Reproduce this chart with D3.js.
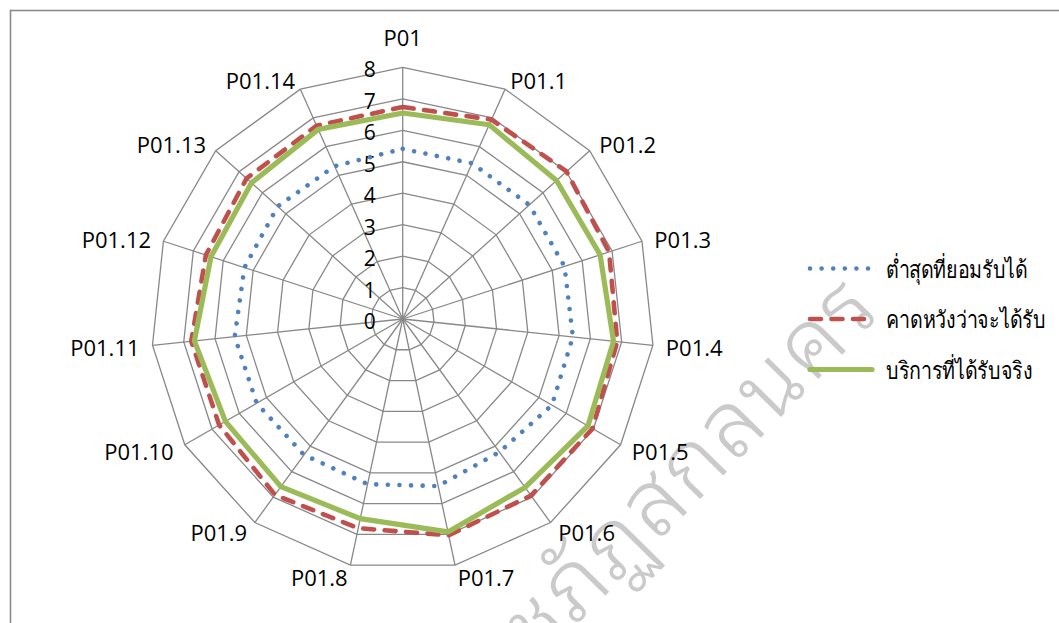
<!DOCTYPE html>
<html>
<head>
<meta charset="utf-8">
<script src="https://cdn.jsdelivr.net/npm/d3@7"></script>
<style>
  html, body { margin: 0; padding: 0; background: #fff; }
  svg { display: block; }
  text { font-family: "Open Sans", "Noto Sans", sans-serif; }
  .mark { font-family: "Noto Sans Thai Looped", "Noto Sans Thai", "Loma", "Garuda", "Waree", sans-serif; }
</style>
</head>
<body>
<svg id="chart" width="1059" height="623"></svg>
<script>
// Axis categories of the radar
const categories = ["P01", "P01.1", "P01.2", "P01.3", "P01.4", "P01.5", "P01.6", "P01.7",
                    "P01.8", "P01.9", "P01.10", "P01.11", "P01.12", "P01.13", "P01.14"];

// Series values (one per category)
const minAcceptable = [5.41, 5.42, 5.42, 5.41, 5.44, 5.48, 5.23, 5.43, 5.37, 5.34, 5.36, 5.37, 5.29, 5.35, 5.32];
const expected      = [6.74, 6.94, 7.01, 6.90, 6.86, 6.97, 6.94, 7.03, 6.80, 6.91, 6.74, 6.76, 6.58, 6.68, 6.73];
const received      = [6.55, 6.76, 6.58, 6.60, 6.74, 6.80, 6.62, 6.92, 6.49, 6.59, 6.51, 6.66, 6.41, 6.47, 6.60];

// Radial tick values
const ticks = [0, 1, 2, 3, 4, 5, 6, 7, 8];

// Legend names
const seriesNames = ["ต่ำสุดที่ยอมรับได้", "คาดหวังว่าจะได้รับ", "บริการที่ได้รับจริง"];

const svg = d3.select("#chart");
const cx = 402.7, cy = 319, R = 251.6;

// Institutional watermark, drawn underneath everything
svg.append("text")
  .attr("class", "mark")
  .attr("transform", "translate(884,312) rotate(-45.5)")
  .attr("text-anchor", "end")
  .attr("font-size", 92)
  .attr("font-weight", 300)
  .attr("letter-spacing", 2)
  .style("fill", "#cacaca")
  .text("มหาวิทยาลัยราชภัฏสกลนคร");

// Outer frame of the chart area (only top and left edges fall inside the view)
svg.append("rect")
  .attr("x", 10.5).attr("y", 10.5)
  .attr("width", 1200).attr("height", 800)
  .attr("fill", "none").attr("stroke", "#8a8a8a").attr("stroke-width", 1.6);

const r = d3.scaleLinear().domain([0, 8]).range([0, R]);
const angle = d3.scalePoint().domain(categories).range([0, 2 * Math.PI * (categories.length - 1) / categories.length]);

const g = svg.append("g").attr("transform", `translate(${cx},${cy})`);

const pt = (cat, v) => {
  const a = angle(cat);
  return [Math.sin(a) * r(v), -Math.cos(a) * r(v)];
};

// Grid rings
const ringLine = d3.lineRadial().angle(d => angle(d.c)).radius(d => r(d.v)).curve(d3.curveLinearClosed);
g.append("g").selectAll("path")
  .data(ticks.filter(t => t > 0))
  .join("path")
  .attr("d", t => ringLine(categories.map(c => ({ c, v: t }))))
  .attr("fill", "none").attr("stroke", "#888").attr("stroke-width", 1.3);

// Spokes
g.append("g").selectAll("line")
  .data(categories)
  .join("line")
  .attr("x1", 0).attr("y1", 0)
  .attr("x2", c => pt(c, 8)[0]).attr("y2", c => pt(c, 8)[1])
  .attr("stroke", "#888").attr("stroke-width", 1.3);

// Radial tick labels
g.append("g").selectAll("text")
  .data(ticks)
  .join("text")
  .attr("x", -27).attr("y", t => -r(t) + 2)
  .attr("text-anchor", "end").attr("dominant-baseline", "central")
  .attr("font-size", 21)
  .style("fill", "#000")
  .text(t => t);

// Category labels
g.append("g").selectAll("text")
  .data(categories)
  .join("text")
  .each(function (c) {
    const a = angle(c);
    const s = Math.sin(a), co = Math.cos(a);
    const [x, y] = pt(c, 8);
    const t = d3.select(this);
    if (Math.abs(s) < 0.05) {
      t.attr("x", x).attr("y", y - 30).attr("text-anchor", "middle");
    } else {
      t.attr("x", x + 13 * s).attr("y", y - 11 * co + 1)
       .attr("text-anchor", s > 0 ? "start" : "end");
    }
  })
  .attr("dominant-baseline", "central")
  .attr("font-size", 22)
  .style("fill", "#000")
  .text(c => c);

// Series
const styles = [
  { values: minAcceptable, color: "#4F81BD", width: 4.6, dash: "0.01 11.6", cap: "round" },
  { values: expected,      color: "#C0504D", width: 4.6, dash: "11 10.5",  cap: "round" },
  { values: received,      color: "#9BBB59", width: 5.2, dash: null,        cap: "round" }
];
const seriesLine = d3.lineRadial()
  .angle((d, i) => angle(categories[i]))
  .radius(d => r(d))
  .curve(d3.curveLinearClosed);

g.append("g").selectAll("path")
  .data(styles)
  .join("path")
  .attr("d", s => seriesLine(s.values))
  .attr("fill", "none")
  .attr("stroke", s => s.color)
  .attr("stroke-width", s => s.width)
  .attr("stroke-dasharray", s => s.dash)
  .attr("stroke-linecap", s => s.cap)
  .attr("stroke-linejoin", "round");

// Legend
const legend = svg.append("g");
const ly = d3.scalePoint().domain(seriesNames).range([268.5, 369.5]);
const legendTexts = [];
seriesNames.forEach((name, i) => {
  const st = styles[i];
  legend.append("line")
    .attr("x1", 810).attr("x2", 872)
    .attr("y1", ly(name)).attr("y2", ly(name))
    .attr("stroke", st.color).attr("stroke-width", st.width)
    .attr("stroke-dasharray", st.dash).attr("stroke-linecap", st.cap);
  legendTexts.push(legend.append("text")
    .attr("x", 0).attr("y", 0)
    .attr("transform", `translate(886,${ly(name)})`)
    .attr("dominant-baseline", "central")
    .attr("font-size", 24)
    .style("fill", "#000")
    .text(name));
});
// The Thai face here runs wider than the legend room; condense it horizontally
const firstWidth = legendTexts[0].node().getComputedTextLength();
const sx = Math.min(1, 144 / firstWidth);
legendTexts.forEach((t, i) => t.attr("transform", `translate(886,${ly(seriesNames[i])}) scale(${sx},1)`));
</script>
</body>
</html>
